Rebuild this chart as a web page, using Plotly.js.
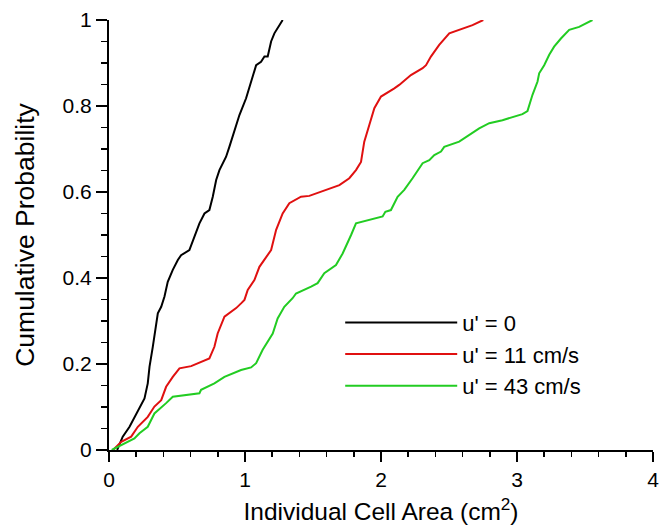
<!DOCTYPE html>
<html>
<head>
<meta charset="utf-8">
<script src="https://cdn.plot.ly/plotly-3.0.1.min.js"></script>
<style>html,body{margin:0;padding:0;background:#fff;}#chart{width:659px;height:525px;}</style>
</head>
<body>
<div id="chart"></div>
<script>
// u' = 0
const x0 = [0.06,0.101,0.151,0.212,0.261,0.285,0.298,0.322,0.347,0.359,0.384,0.408,0.432,0.469,0.506,0.530,0.591,0.628,0.665,0.702,0.738,0.763,0.788,0.812,0.861,0.885,0.922,0.959,1.008,1.045,1.082,1.118,1.143,1.167,1.192,1.216,1.277];
const y0 = [0,0.031,0.054,0.089,0.120,0.155,0.194,0.240,0.295,0.318,0.333,0.357,0.391,0.419,0.442,0.453,0.465,0.496,0.527,0.550,0.558,0.589,0.628,0.651,0.682,0.705,0.744,0.779,0.818,0.857,0.895,0.903,0.915,0.915,0.950,0.969,1.0];
// u' = 11 cm/s
const x11 = [0.03,0.090,0.163,0.212,0.285,0.334,0.384,0.420,0.469,0.518,0.604,0.702,0.738,0.775,0.799,0.849,0.935,0.971,0.996,1.020,1.069,1.106,1.155,1.192,1.229,1.277,1.326,1.412,1.473,1.596,1.694,1.767,1.816,1.853,1.877,1.914,1.951,2.000,2.061,2.098,2.134,2.220,2.306,2.331,2.367,2.428,2.502,2.575,2.673,2.752];
const y11 = [0,0.019,0.031,0.054,0.077,0.101,0.116,0.147,0.170,0.190,0.195,0.209,0.213,0.240,0.271,0.310,0.330,0.341,0.349,0.372,0.395,0.426,0.450,0.465,0.512,0.550,0.574,0.589,0.591,0.605,0.616,0.632,0.651,0.670,0.717,0.756,0.795,0.822,0.833,0.841,0.849,0.872,0.888,0.895,0.915,0.942,0.969,0.977,0.988,1.0];
// u' = 43 cm/s
const x43 = [0.02,0.114,0.187,0.224,0.285,0.334,0.395,0.420,0.469,0.555,0.665,0.677,0.775,0.849,0.971,1.045,1.082,1.130,1.204,1.240,1.289,1.350,1.375,1.486,1.534,1.583,1.669,1.718,1.755,1.780,1.816,1.865,2.012,2.032,2.073,2.122,2.171,2.232,2.306,2.355,2.392,2.441,2.465,2.575,2.649,2.722,2.796,2.893,3.040,3.077,3.114,3.151,3.163,3.200,3.237,3.273,3.323,3.384,3.457,3.555];
const y43 = [0,0.016,0.027,0.039,0.054,0.085,0.101,0.109,0.124,0.128,0.132,0.140,0.155,0.170,0.186,0.192,0.202,0.233,0.271,0.306,0.333,0.353,0.364,0.380,0.388,0.411,0.430,0.457,0.481,0.500,0.527,0.531,0.543,0.554,0.558,0.589,0.605,0.632,0.667,0.674,0.686,0.694,0.705,0.717,0.733,0.748,0.760,0.767,0.781,0.788,0.826,0.857,0.876,0.895,0.919,0.938,0.957,0.977,0.984,1.0];

const names = ["u' = 0", "u' = 11 cm/s", "u' = 43 cm/s"];
const colors = ["#000000", "#e01010", "#22cc22"];
const xs = [x0, x11, x43];
const ys = [y0, y11, y43];

const traces = xs.map((x, i) => ({
  x: x, y: ys[i], type: 'scatter', mode: 'lines', name: names[i],
  line: {color: colors[i], width: 2}
}));

const fontFam = '"Liberation Sans", Arial, Helvetica, sans-serif';
const layout = {
  width: 659, height: 525,
  margin: {l: 109, r: 6, t: 20, b: 75},
  paper_bgcolor: '#fff', plot_bgcolor: '#fff',
  font: {family: fontFam, color: '#000', size: 21},
  showlegend: true,
  legend: {x: 0.425, y: 0.345, xanchor: 'left', yanchor: 'top', bgcolor: 'rgba(0,0,0,0)',
           font: {size: 22, family: fontFam, color: '#000'}, itemwidth: 112, tracegroupgap: 0},
  xaxis: {
    range: [0, 4], showgrid: false, zeroline: false, showline: true, linecolor: '#000', linewidth: 2,
    ticks: 'outside', ticklen: 10, tickwidth: 2, tickcolor: '#000', dtick: 1, tick0: 0,
    ticklabeloverflow: 'allow',
    minor: {ticks: 'outside', ticklen: 5, tickwidth: 1.5, tickcolor: '#000', dtick: 0.2, showgrid: false},
    tickfont: {size: 21}, fixedrange: true,
    title: {text: 'Individual Cell Area (cm<sup>2</sup>)', font: {size: 24.5}, standoff: 15}
  },
  yaxis: {
    range: [0, 1], showgrid: false, zeroline: false, showline: true, linecolor: '#000', linewidth: 2,
    ticks: 'outside', ticklen: 11, tickwidth: 2, tickcolor: '#000', dtick: 0.2, tick0: 0,
    minor: {ticks: 'outside', ticklen: 6, tickwidth: 1.5, tickcolor: '#000', dtick: 0.05, showgrid: false},
    tickfont: {size: 21}, fixedrange: true,
    title: {text: 'Cumulative Probability', font: {size: 26.5}, standoff: 20}
  }
};

Plotly.newPlot('chart', traces, layout, {staticPlot: true, displayModeBar: false});
</script>
</body>
</html>
